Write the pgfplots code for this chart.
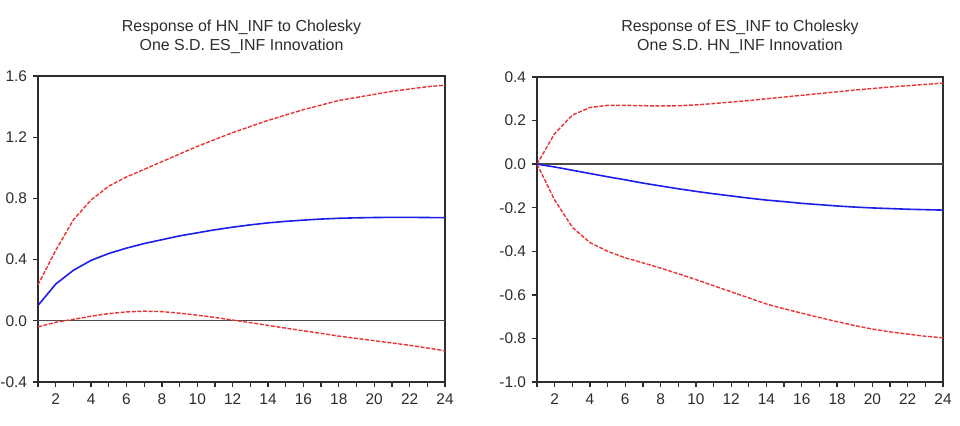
\documentclass[border=0pt]{standalone}
\usepackage{pgfplots}
\pgfplotsset{compat=1.18}
\usepackage{fontspec}
\setmainfont{Liberation Sans}

\definecolor{irfred}{RGB}{236,50,50}
\definecolor{irfblue}{RGB}{30,30,235}
\definecolor{frame}{RGB}{45,45,45}

\pgfplotsset{
  irf/.style={
    scale only axis,
    xmin=1, xmax=24,
    xtick={1,...,24},
    xticklabels={,2,,4,,6,,8,,10,,12,,14,,16,,18,,20,,22,,24},
    tick align=outside,
    xtick pos=bottom, ytick pos=left,
    major tick length=5bp,
    tick style={line width=1.3bp, color=frame},
    axis line style={line width=1.7bp, color=frame},
    ticklabel style={font=\fontsize{15.5}{15.5}\selectfont, text=frame},
    xticklabel style={yshift=-3bp},
    yticklabel style={xshift=-2.5bp},
  },
  band/.style={irfred, line width=1.4bp, dash pattern=on 4bp off 1.6bp},
  resp/.style={irfblue, line width=1.6bp},
  zero/.style={frame!85, line width=1.3bp},
}

\begin{document}
\begin{tikzpicture}[x=1bp, y=1bp]
\fill[white] (0,0) rectangle (960,425);
\useasboundingbox (0,0) rectangle (960,425);

% Response of HN_INF to ES_INF
\begin{axis}[irf, at={(38bp,43bp)}, anchor=south west,
  width=407bp, height=306bp,
  ymin=-0.4, ymax=1.6,
  ytick={-0.4,0,0.4,0.8,1.2,1.6},
  yticklabels={-0.4,0.0,0.4,0.8,1.2,1.6}]
\addplot[zero] coordinates {(1,0) (24,0)};
\addplot[band] coordinates {
  (1,0.235) (2,0.46) (3,0.66) (4,0.79) (5,0.88) (6,0.94) (7,0.99) (8,1.04)
  (9,1.09) (10,1.14) (11,1.185) (12,1.23) (13,1.27) (14,1.31) (15,1.345)
  (16,1.38) (17,1.41) (18,1.44) (19,1.46) (20,1.48) (21,1.50) (22,1.515)
  (23,1.53) (24,1.54)};
\addplot[band] coordinates {
  (1,-0.04) (2,-0.01) (3,0.01) (4,0.03) (5,0.047) (6,0.058) (7,0.063)
  (8,0.06) (9,0.05) (10,0.037) (11,0.022) (12,0.005) (13,-0.012) (14,-0.03)
  (15,-0.048) (16,-0.065) (17,-0.082) (18,-0.1) (19,-0.115) (20,-0.13)
  (21,-0.145) (22,-0.16) (23,-0.178) (24,-0.196)};
\addplot[resp] coordinates {
  (1,0.10) (2,0.24) (3,0.33) (4,0.395) (5,0.44) (6,0.475) (7,0.505) (8,0.53)
  (9,0.555) (10,0.575) (11,0.595) (12,0.612) (13,0.627) (14,0.64) (15,0.65)
  (16,0.658) (17,0.665) (18,0.67) (19,0.673) (20,0.675) (21,0.676)
  (22,0.676) (23,0.675) (24,0.674)};
\end{axis}

% Response of ES_INF to HN_INF
\begin{axis}[irf, at={(537bp,43bp)}, anchor=south west,
  width=406bp, height=305bp,
  ymin=-1.0, ymax=0.4,
  ytick={-1.0,-0.8,-0.6,-0.4,-0.2,0,0.2,0.4},
  yticklabels={-1.0,-0.8,-0.6,-0.4,-0.2,0.0,0.2,0.4}]
\addplot[zero] coordinates {(1,0) (24,0)};
\addplot[band] coordinates {
  (1,0) (2,0.14) (3,0.225) (4,0.26) (5,0.27) (6,0.27) (7,0.268) (8,0.267)
  (9,0.268) (10,0.272) (11,0.278) (12,0.285) (13,0.292) (14,0.3) (15,0.308)
  (16,0.316) (17,0.324) (18,0.332) (19,0.34) (20,0.347) (21,0.354)
  (22,0.36) (23,0.366) (24,0.372)};
\addplot[band] coordinates {
  (1,0) (2,-0.165) (3,-0.29) (4,-0.36) (5,-0.40) (6,-0.43) (7,-0.453)
  (8,-0.477) (9,-0.503) (10,-0.53) (11,-0.558) (12,-0.586) (13,-0.614)
  (14,-0.642) (15,-0.664) (16,-0.684) (17,-0.704) (18,-0.723) (19,-0.741)
  (20,-0.757) (21,-0.77) (22,-0.78) (23,-0.79) (24,-0.797)};
\addplot[resp] coordinates {
  (1,0) (2,-0.013) (3,-0.028) (4,-0.043) (5,-0.058) (6,-0.072) (7,-0.087)
  (8,-0.1) (9,-0.113) (10,-0.125) (11,-0.136) (12,-0.146) (13,-0.156)
  (14,-0.165) (15,-0.172) (16,-0.18) (17,-0.186) (18,-0.192) (19,-0.197)
  (20,-0.201) (21,-0.204) (22,-0.207) (23,-0.209) (24,-0.211)};
\end{axis}

% Panel titles
\node[font=\fontsize{16}{19}\selectfont, text=frame, align=center, anchor=center]
  at (241.5,388) {Response of HN\_INF to Cholesky\\One S.D. ES\_INF Innovation};
\node[font=\fontsize{16}{19}\selectfont, text=frame, align=center, anchor=center]
  at (740,388) {Response of ES\_INF to Cholesky\\One S.D. HN\_INF Innovation};
\end{tikzpicture}
\end{document}
